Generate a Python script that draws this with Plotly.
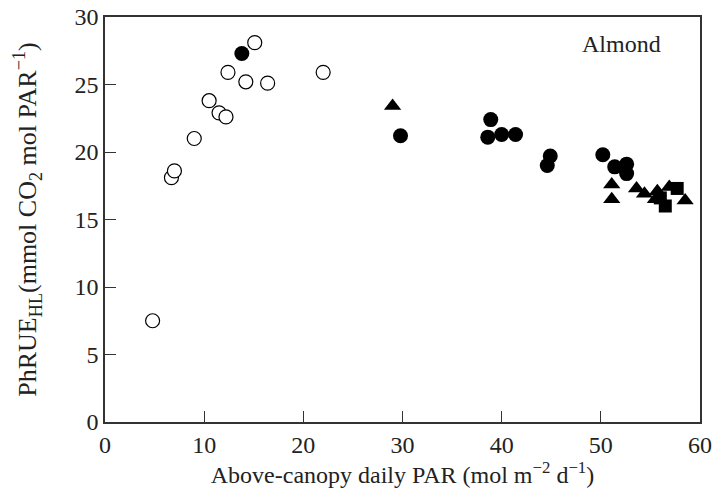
import plotly.graph_objects as go

# Open circles
open_x = [4.8, 6.7, 7.0, 9.0, 10.5, 11.5, 12.2, 12.4, 14.2, 15.1, 16.4, 22.0]
open_y = [7.5, 18.1, 18.6, 21.0, 23.8, 22.9, 22.6, 25.9, 25.2, 28.1, 25.1, 25.9]

# Filled circles
fc_x = [13.8, 29.8, 38.9, 38.6, 40.0, 41.4, 44.9, 44.6, 50.2, 51.4, 52.6, 52.6]
fc_y = [27.3, 21.2, 22.4, 21.1, 21.3, 21.3, 19.7, 19.0, 19.8, 18.9, 19.1, 18.4]

# Filled triangles
tri_x = [29.0, 51.1, 51.1, 53.6, 54.4, 55.7, 55.5, 56.9, 58.5]
tri_y = [23.4, 17.6, 16.5, 17.3, 16.9, 17.1, 16.5, 17.4, 16.4]

# Filled squares
sq_x = [57.7, 56.5, 56.0]
sq_y = [17.3, 16.0, 16.6]

fig = go.Figure()
fig.add_trace(go.Scatter(x=open_x, y=open_y, mode="markers",
                         marker=dict(symbol="circle", size=14, color="white",
                                     line=dict(color="black", width=1.2))))
fig.add_trace(go.Scatter(x=fc_x, y=fc_y, mode="markers",
                         marker=dict(symbol="circle", size=15, color="black",
                                     line=dict(width=0))))
fig.add_trace(go.Scatter(x=sq_x, y=sq_y, mode="markers",
                         marker=dict(symbol="square", size=13, color="black",
                                     line=dict(width=0))))
fig.add_trace(go.Scatter(x=tri_x, y=tri_y, mode="markers",
                         marker=dict(symbol="triangle-up", size=15, color="black",
                                     line=dict(width=0))))

family = "Liberation Serif, Times New Roman, serif"
tickfont = dict(family=family, size=24, color="#222")
xtitlefont = dict(family=family, size=24, color="#222")
ytitlefont = dict(family=family, size=26, color="#222")

axis_common = dict(showgrid=False, zeroline=False, showline=True, linecolor="#333",
                   linewidth=1.5, mirror=True, ticks="inside", ticklen=11,
                   tickwidth=1.2, tickcolor="#333", tickfont=tickfont,
                   automargin=False)

fig.update_xaxes(range=[0, 60], tickvals=[0, 10, 20, 30, 40, 50, 60],
                 title=dict(text="Above-canopy daily PAR (mol m<sup>−2</sup> d<sup>−1</sup>)",
                            font=xtitlefont, standoff=6),
                 **axis_common)
fig.update_yaxes(range=[0, 30], tickvals=[0, 5, 10, 15, 20, 25, 30],
                 title=dict(text="PhRUE<sub>HL</sub>(mmol CO<sub>2</sub> mol PAR<sup>−1</sup>)",
                            font=ytitlefont, standoff=30),
                 **axis_common)

fig.add_annotation(x=52.1, y=28.0, xref="x", yref="y", text="Almond",
                   showarrow=False, font=tickfont)

fig.update_layout(width=720, height=496, showlegend=False,
                  plot_bgcolor="white", paper_bgcolor="white",
                  margin=dict(l=105, r=20, t=17, b=74), font=tickfont)

# remove the default 8px page margin so the figure fills the window exactly
fig.write_html("out.html", config={"displayModeBar": False},
               post_script="document.body.style.margin='0';")
